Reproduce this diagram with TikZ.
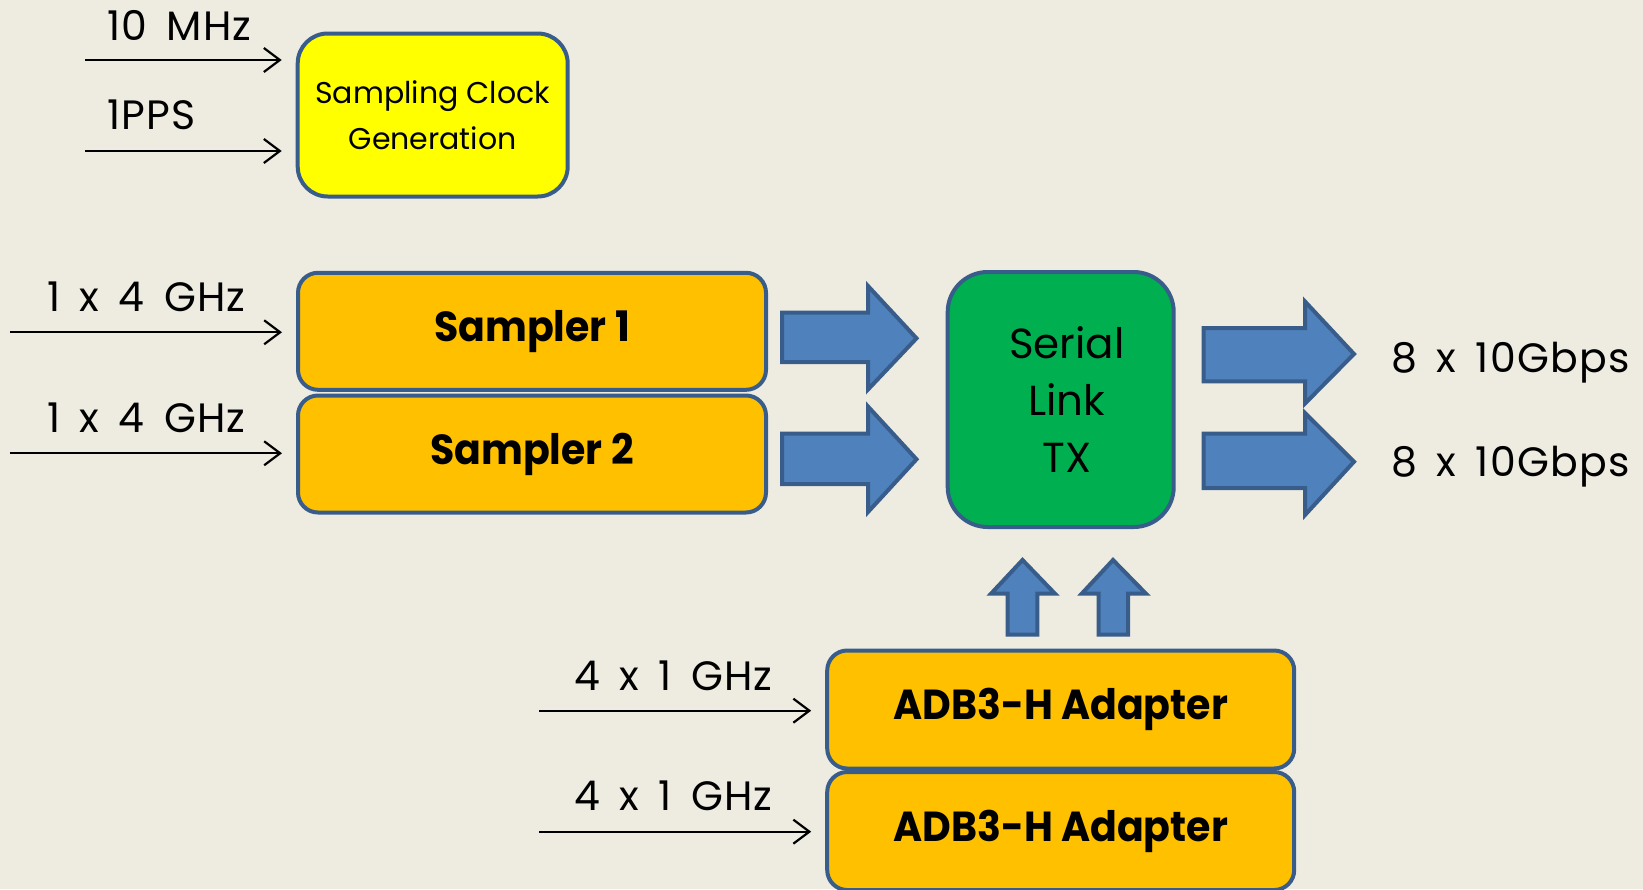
\documentclass[tikz,border=0pt]{standalone}
\usepackage{fontspec}
\setmainfont{Poppins}
\newfontfamily\lblfont{Poppins}[LetterSpace=3,WordSpace=1.6]
\newfontfamily\bcond{Poppins}[FakeStretch=0.94]
\usetikzlibrary{arrows.meta,calc}
\definecolor{bgcol}{HTML}{EEECE1}
\definecolor{clkyellow}{HTML}{FFFF00}
\definecolor{boxorange}{HTML}{FFC000}
\definecolor{boxgreen}{HTML}{00B050}
\definecolor{arrblue}{HTML}{4F81BD}
\definecolor{edgeblue}{HTML}{385D8A}
\begin{document}
\begin{tikzpicture}[x=1pt,y=-1pt,
  box/.style={draw=edgeblue,line width=4pt,inner sep=0pt,align=center},
  boldtxt/.style={font=\bcond\bfseries\fontsize{42}{48}\selectfont},
  lbl/.style={inner sep=0pt,anchor=base west,font=\lblfont\fontsize{41}{48}\selectfont},
  thinarrow/.style={line width=2.2pt,-{Straight Barb[length=16pt,width=24pt]}},
  blockarrow/.style={draw=edgeblue,fill=arrblue,line width=4pt,line join=miter}]
\fill[bgcol] (0,0) rectangle (1643,889);
\useasboundingbox (0,0) rectangle (1643,889);

% boxes
\node[box,fill=clkyellow,rounded corners=30pt,minimum width=270pt,minimum height=163pt,
  font=\fontsize{30}{46}\selectfont] (clk) at (432.7,115) {Sampling Clock\\Generation};
\node[box,fill=boxorange,rounded corners=20pt,minimum width=468pt,minimum height=117pt,
  boldtxt] (s1) at (532,331.3) {Sampler 1};
\node[box,fill=boxorange,rounded corners=20pt,minimum width=468pt,minimum height=117pt,
  boldtxt] (s2) at (532,454) {Sampler 2};
\node[box,fill=boxgreen,rounded corners=40pt,minimum width=226pt,minimum height=255pt,
  font=\fontsize{42}{57}\selectfont] (tx) at (1060.7,399.5) {\hspace*{12pt}Serial\\\hspace*{12pt}Link\\\hspace*{12pt}TX};
\node[box,fill=boxorange,rounded corners=20pt,minimum width=467pt,minimum height=118pt,
  boldtxt] (a1) at (1060.7,709.5) {ADB3-H Adapter};
\node[box,fill=boxorange,rounded corners=20pt,minimum width=467pt,minimum height=118pt,
  boldtxt] (a2) at (1060.7,831) {ADB3-H Adapter};

% labels
\node[lbl] (l10) at (107,40) {10 MHz};
\node[lbl] (lpps) at (107,129.3) {1PPS};
\node[lbl] (ls1) at (47,311.7) {1 x 4 GHz};
\node[lbl] (ls2) at (47,432.7) {1 x 4 GHz};
\node[lbl] (la1) at (574,690) {4 x 1 GHz};
\node[lbl] (la2) at (574,810.7) {4 x 1 GHz};
\node[lbl] (lo1) at (1391,372.7) {8 x 10Gbps};
\node[lbl] (lo2) at (1391,476.7) {8 x 10Gbps};

% thin input arrows
\coordinate (i10) at (85,60);
\coordinate (ipps) at (85,151);
\coordinate (is1) at (10,332.3);
\coordinate (is2) at (10,453.3);
\coordinate (ia1) at (539,710.7);
\coordinate (ia2) at (539,831.7);
\draw[thinarrow] (i10) -- ($(clk.west|-i10)+(-14,0)$);
\draw[thinarrow] (ipps) -- ($(clk.west|-ipps)+(-14,0)$);
\draw[thinarrow] (is1) -- ($(s1.west|-is1)+(-14,0)$);
\draw[thinarrow] (is2) -- ($(s2.west|-is2)+(-14,0)$);
\draw[thinarrow] (ia1) -- ($(a1.west|-ia1)+(-14,0)$);
\draw[thinarrow] (ia2) -- ($(a2.west|-ia2)+(-14,0)$);

% block arrows sampler -> serial link
\draw[blockarrow] (782,312.7) -- (868,312.7) -- (868,286) -- (916.5,338.3) -- (868,389.5) -- (868,362) -- (782,362) -- cycle;
\draw[blockarrow] (782,433.7) -- (868,433.7) -- (868,406.5) -- (916.5,459.3) -- (868,512) -- (868,484) -- (782,484) -- cycle;
% block arrows serial link -> outputs
\draw[blockarrow] (1203.7,328) -- (1305,328) -- (1305,301.5) -- (1354,354) -- (1305,403.5) -- (1305,381.3) -- (1203.7,381.3) -- cycle;
\draw[blockarrow] (1203.7,433.7) -- (1305,433.7) -- (1305,413) -- (1354,461.7) -- (1305,515) -- (1305,488) -- (1203.7,488) -- cycle;
% block arrows adapters -> serial link
\draw[blockarrow] (1007.7,634.7) -- (1007.7,593.7) -- (991,593.7) -- (1022.5,560) -- (1055,593.7) -- (1037.4,593.7) -- (1037.4,634.7) -- cycle;
\draw[blockarrow] (1098.5,634.7) -- (1098.5,593.7) -- (1081.7,593.7) -- (1113,560) -- (1146,593.7) -- (1128,593.7) -- (1128,634.7) -- cycle;
\end{tikzpicture}
\end{document}
